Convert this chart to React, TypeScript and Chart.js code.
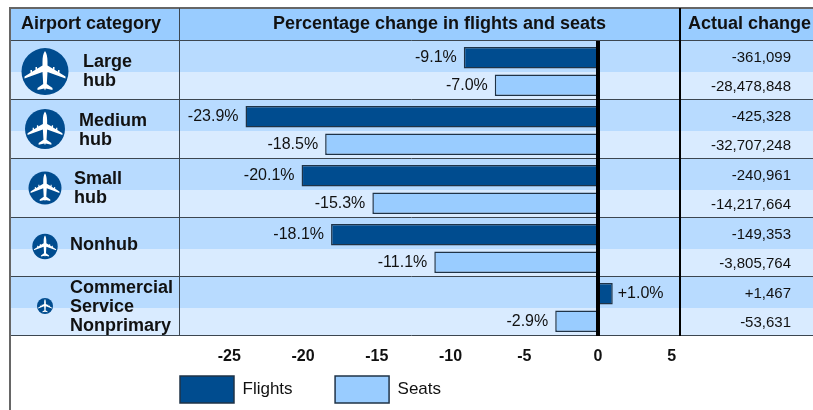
import React, { useEffect, useRef } from "react";
import { Chart, registerables } from "chart.js";

Chart.register(...registerables);

const categories = ["Large hub", "Medium hub", "Small hub", "Nonhub", "Commercial Service Nonprimary"];
const flights = [-9.1, -23.9, -20.1, -18.1, 1.0];
const seats = [-7.0, -18.5, -15.3, -11.1, -2.9];
const actualFlights = ["-361,099", "-425,328", "-240,961", "-149,353", "+1,467"];
const actualSeats = ["-28,478,848", "-32,707,248", "-14,217,664", "-3,805,764", "-53,631"];
const categoryLines = [["Large", "hub"], ["Medium", "hub"], ["Small", "hub"], ["Nonhub"], ["Commercial", "Service", "Nonprimary"]];
const iconRadius = [23.5, 20, 16.5, 12.7, 8];
const iconDy = [1.1, -0.5, -0.5, -1, -0.5];
const textDy = [1, 1, 0, -2, 1];
const textX = [83, 79, 74, 70, 70];
const headers = ["Airport category", "Percentage change in flights and seats", "Actual change"];
const xTicks = [-25, -20, -15, -10, -5, 0, 5];

const FONT = '"Liberation Sans", Arial, sans-serif';
const NAVY = "#004c8f";
const LIGHT = "#99ccff";
const EDGE = "#1f3347";
const BAND_A = "#b8dbff";
const BAND_B = "#d9ebff";
const HEAD = "#99ccff";
const GRID = "#3c4650";
const ROW_TOP = 41;
const ROW_H = 59;

function drawPlane(ctx: CanvasRenderingContext2D, cx: number, cy: number, r: number) {
  const s = r / 23.5;
  ctx.save();
  ctx.translate(cx, cy);
  ctx.scale(s, s);
  ctx.fillStyle = "#ffffff";
  ctx.beginPath();
  ctx.moveTo(0, -20.5);
  ctx.bezierCurveTo(1.8, -18.5, 2.5, -14, 2.5, -10);
  ctx.lineTo(2.5, -6);
  ctx.lineTo(8, -2.8);
  ctx.lineTo(8, -4.5);
  ctx.lineTo(9.5, -4.5);
  ctx.lineTo(9.5, -1.8);
  ctx.lineTo(13, 0.2);
  ctx.lineTo(13, -1.5);
  ctx.lineTo(14.5, -1.5);
  ctx.lineTo(14.5, 1.2);
  ctx.lineTo(20.5, 5);
  ctx.lineTo(20.5, 7);
  ctx.lineTo(2.5, 0.5);
  ctx.lineTo(1.8, 12.5);
  ctx.lineTo(7.5, 16.5);
  ctx.lineTo(7.5, 18.5);
  ctx.lineTo(0.8, 17);
  ctx.lineTo(0, 19);
  ctx.lineTo(-0.8, 17);
  ctx.lineTo(-7.5, 18.5);
  ctx.lineTo(-7.5, 16.5);
  ctx.lineTo(-1.8, 12.5);
  ctx.lineTo(-2.5, 0.5);
  ctx.lineTo(-20.5, 7);
  ctx.lineTo(-20.5, 5);
  ctx.lineTo(-14.5, 1.2);
  ctx.lineTo(-14.5, -1.5);
  ctx.lineTo(-13, -1.5);
  ctx.lineTo(-13, 0.2);
  ctx.lineTo(-9.5, -1.8);
  ctx.lineTo(-9.5, -4.5);
  ctx.lineTo(-8, -4.5);
  ctx.lineTo(-8, -2.8);
  ctx.lineTo(-2.5, -6);
  ctx.lineTo(-2.5, -10);
  ctx.bezierCurveTo(-2.5, -14, -1.8, -18.5, 0, -20.5);
  ctx.closePath();
  ctx.fill();
  ctx.restore();
}

const LEGEND_PAD = 42.5;

const tablePlugin = {
  id: "tablePlugin",
  beforeLayout(chart: any) {
    const lg = chart.legend;
    if (lg && !lg.__patched) {
      lg.__patched = true;
      const fit = lg.fit;
      lg.fit = function (this: any) {
        fit.call(this);
        this.height = 33;
      };
    }
  },
  afterLayout(chart: any) {
    const lg = chart.legend;
    if (lg) {
      lg.left = 180 - LEGEND_PAD;
      lg.right = 813;
      lg.width = lg.right - lg.left;
      lg.top = 376 - LEGEND_PAD;
      lg.bottom = 410;
    }
  },
  beforeDatasetsDraw(chart: any) {
    const { ctx } = chart;
    const left = 10, right = 813, top = 8;
    ctx.save();
    ctx.fillStyle = HEAD;
    ctx.fillRect(left, top, right - left, ROW_TOP - top);
    for (let i = 0; i < categories.length; i++) {
      const y = ROW_TOP + i * ROW_H;
      ctx.fillStyle = BAND_A;
      ctx.fillRect(left, y, right - left, 31);
      ctx.fillStyle = BAND_B;
      ctx.fillRect(left, y + 31, right - left, ROW_H - 31);
    }
    ctx.restore();
  },
  afterDatasetsDraw(chart: any) {
    const { ctx, scales } = chart;
    const left = 10, right = 813, top = 8;
    const rows = categories.length;
    const bottom = ROW_TOP + rows * ROW_H;
    const zero = scales.x.getPixelForValue(0);
    ctx.save();

    // value labels
    ctx.font = `16px ${FONT}`;
    ctx.fillStyle = "#111";
    ctx.textBaseline = "middle";
    chart.data.datasets.forEach((ds: any, d: number) => {
      chart.getDatasetMeta(d).data.forEach((el: any, i: number) => {
        const v = ds.data[i];
        const txt = (v > 0 ? "+" : "") + v.toFixed(1) + "%";
        ctx.textAlign = v < 0 ? "right" : "left";
        ctx.fillText(txt, v < 0 ? el.x - 7 : el.x + 5, el.y);
      });
    });

    // grid lines
    ctx.strokeStyle = GRID;
    ctx.lineWidth = 1;
    for (let i = 0; i <= rows; i++) {
      const y = ROW_TOP + i * ROW_H - 0.5;
      ctx.beginPath();
      ctx.moveTo(left, y);
      ctx.lineTo(right, y);
      ctx.stroke();
    }
    ctx.strokeStyle = "#666";
    ctx.lineWidth = 2;
    ctx.beginPath();
    ctx.moveTo(10, 410);
    ctx.lineTo(10, 8);
    ctx.lineTo(813, 8);
    ctx.stroke();

    ctx.strokeStyle = GRID;
    ctx.lineWidth = 1;
    ctx.beginPath();
    ctx.moveTo(179.5, top);
    ctx.lineTo(179.5, bottom);
    ctx.stroke();
    ctx.strokeStyle = "#000";
    ctx.lineWidth = 2;
    ctx.beginPath();
    ctx.moveTo(680, top);
    ctx.lineTo(680, bottom);
    ctx.stroke();
    ctx.lineWidth = 4;
    ctx.beginPath();
    ctx.moveTo(zero, ROW_TOP);
    ctx.lineTo(zero, bottom);
    ctx.stroke();

    // headers
    ctx.fillStyle = "#111";
    ctx.font = `bold 18px ${FONT}`;
    ctx.textAlign = "left";
    ctx.fillText(headers[0], 21, 24);
    ctx.textAlign = "center";
    ctx.fillText(headers[1], 439.5, 24);
    ctx.textAlign = "left";
    ctx.fillText(headers[2], 688, 24);

    // category cells
    for (let i = 0; i < rows; i++) {
      const rowTop = ROW_TOP + i * ROW_H;
      const cy = rowTop + ROW_H / 2;
      const iy = cy + iconDy[i];
      ctx.fillStyle = NAVY;
      ctx.beginPath();
      ctx.arc(45, iy, iconRadius[i], 0, Math.PI * 2);
      ctx.fill();
      drawPlane(ctx, 45, iy, iconRadius[i]);
      ctx.fillStyle = "#111";
      ctx.font = `bold 18px ${FONT}`;
      ctx.textAlign = "left";
      const lines = categoryLines[i];
      const lh = 19;
      lines.forEach((t, k) => {
        ctx.fillText(t, textX[i], cy + textDy[i] + (k - (lines.length - 1) / 2) * lh);
      });
      // actual change
      ctx.font = `15px ${FONT}`;
      ctx.textAlign = "right";
      ctx.fillText(actualFlights[i], 791, rowTop + 16.5);
      ctx.fillText(actualSeats[i], 791, rowTop + 46);
    }
    ctx.restore();
  },
};

export default function App() {
  const ref = useRef<HTMLCanvasElement>(null);
  useEffect(() => {
    const chart = new Chart(ref.current as HTMLCanvasElement, {
      type: "bar",
      data: {
        labels: categories,
        datasets: [
          { label: "Flights", data: flights, backgroundColor: NAVY, borderColor: EDGE, borderWidth: 1.5 },
          { label: "Seats", data: seats, backgroundColor: LIGHT, borderColor: EDGE, borderWidth: 1.5 },
        ],
      },
      options: {
        indexAxis: "y",
        responsive: false,
        animation: false,
        layout: { padding: { left: 179, right: 133, top: 42, bottom: 0 } },
        datasets: { bar: { categoryPercentage: 0.932, barPercentage: 0.78 } },
        plugins: {
          title: { display: false },
          tooltip: { enabled: false },
          legend: {
            display: true,
            position: "bottom",
            align: "start",
            fullSize: true,
            labels: {
              boxWidth: 54,
              boxHeight: 27,
              padding: LEGEND_PAD,
              color: "#111",
              font: { family: FONT, size: 17 },
            },
          },
        },
        scales: {
          x: {
            type: "linear",
            min: -28.41,
            max: 5.56,
            afterBuildTicks(axis: any) {
              axis.ticks = xTicks.map((value) => ({ value }));
            },
            afterFit(axis: any) {
              axis.height = 40;
            },
            grid: { display: false, drawTicks: false },
            border: { display: false },
            ticks: {
              color: "#111",
              font: { family: FONT, size: 16, weight: "bold" },
              padding: 10,
              maxRotation: 0,
              autoSkip: false,
            },
          },
          y: { display: false, grid: { display: false } },
        },
      },
      plugins: [tablePlugin],
    } as any);
    return () => chart.destroy();
  }, []);
  return (
    <div style={{ position: "absolute", left: 0, top: 0, width: 813, height: 410, background: "#fff" }}>
      <canvas ref={ref} width={813} height={410} style={{ display: "block" }} />
    </div>
  );
}
